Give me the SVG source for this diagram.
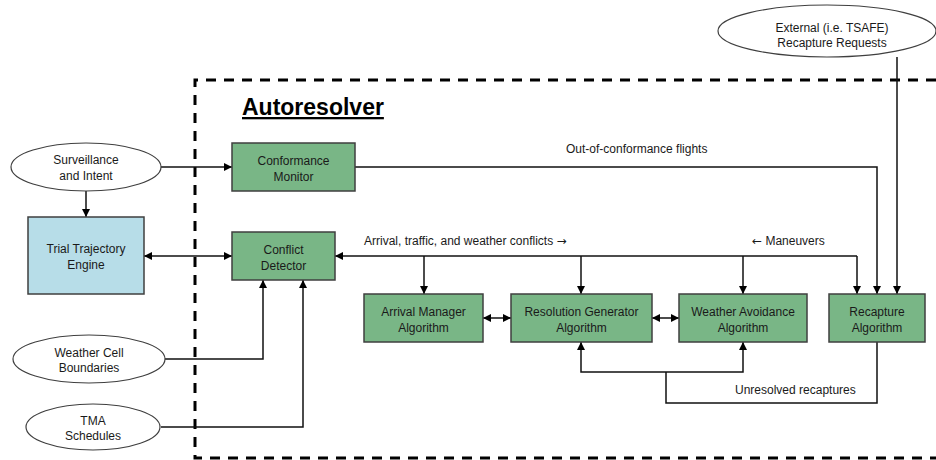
<svg xmlns="http://www.w3.org/2000/svg" width="936" height="460" viewBox="0 0 936 460">
<defs>
<marker id="ah" viewBox="0 0 8 8" refX="8" refY="4" markerWidth="8" markerHeight="8" markerUnits="userSpaceOnUse" orient="auto-start-reverse">
<path d="M0,0 L8,4 L0,8 z" fill="#000"/>
</marker>
<style>
.box{fill:#79b686;stroke:#3f3f3f;stroke-width:1.5}
.blue{fill:#b7dde8;stroke:#3f3f3f;stroke-width:1.5}
.ell{fill:#fff;stroke:#3f3f3f;stroke-width:1.2}
.t{font-family:"Liberation Sans",Arial,sans-serif;font-size:12px;fill:#1a1a1a;text-anchor:middle}
.lbl{font-family:"Liberation Sans",Arial,sans-serif;font-size:12px;fill:#1a1a1a}
.arr{font-family:"DejaVu Sans",sans-serif;font-size:12px}
.c{fill:none;stroke:#111;stroke-width:1.5}
.a{marker-end:url(#ah)}
.aa{marker-start:url(#ah);marker-end:url(#ah)}
</style>
</defs>
<rect width="936" height="460" fill="#fff"/>
<path d="M936,80 L195,80 L195,458 L936,458" fill="none" stroke="#000" stroke-width="3" stroke-dasharray="10,8"/>
<text x="242" y="115" font-family="'Liberation Sans',Arial,sans-serif" font-size="23" font-weight="bold" text-decoration="underline" fill="#000">Autoresolver</text>
<g id="connectors">
<path class="c a" d="M86,191 L86,217"/>
<path class="c a" d="M161,167 L232,167"/>
<path class="c aa" d="M144,256 L232,256"/>
<path class="c a" d="M165,359 L263,359 L263,280"/>
<path class="c a" d="M161,427 L303,427 L303,280"/>
<path class="c a" d="M355,167 L877,167 L877,294"/>
<path class="c a" d="M897,57 L897,294"/>
<path class="c a" d="M857,256 L335,256"/>
<path class="c a" d="M857,256 L857,294"/>
<path class="c a" d="M424,256 L424,294"/>
<path class="c a" d="M581,256 L581,294"/>
<path class="c a" d="M743,256 L743,294"/>
<path class="c aa" d="M483,318 L511,318"/>
<path class="c aa" d="M652,318 L679,318"/>
<path class="c a" d="M666,372 L581,372 L581,342"/>
<path class="c a" d="M666,372 L743,372 L743,342"/>
<path class="c" d="M877,342 L877,403 L666,403 L666,372"/>
<text class="lbl" x="566" y="153">Out-of-conformance flights</text>
<text class="lbl" x="364" y="245">Arrival, traffic, and weather conflicts <tspan class="arr">→</tspan></text>
<text class="lbl" x="752" y="245"><tspan class="arr">←</tspan> Maneuvers</text>
<text class="lbl" x="735" y="394">Unresolved recaptures</text>
</g>
<g id="surveillance">
<ellipse class="ell" cx="86" cy="167" rx="75" ry="24"/>
<text class="t" x="86" y="164">Surveillance</text>
<text class="t" x="86" y="180">and Intent</text>
</g>
<g id="trial-trajectory-engine">
<rect class="blue" x="28" y="217" width="116" height="77"/>
<text class="t" x="86" y="253">Trial Trajectory</text>
<text class="t" x="86" y="269">Engine</text>
</g>
<g id="weather-cell">
<ellipse class="ell" cx="89" cy="359" rx="76" ry="24"/>
<text class="t" x="89" y="357">Weather Cell</text>
<text class="t" x="89" y="372">Boundaries</text>
</g>
<g id="tma">
<ellipse class="ell" cx="93" cy="427" rx="67" ry="23"/>
<text class="t" x="93" y="425">TMA</text>
<text class="t" x="93" y="440">Schedules</text>
</g>
<g id="external">
<ellipse class="ell" cx="827" cy="31" rx="109" ry="26"/>
<text class="t" x="832" y="32">External (i.e. TSAFE)</text>
<text class="t" x="832" y="47">Recapture Requests</text>
</g>
<g id="conformance-monitor">
<rect class="box" x="232" y="143" width="123" height="48"/>
<text class="t" x="293.5" y="165">Conformance</text>
<text class="t" x="293.5" y="181">Monitor</text>
</g>
<g id="conflict-detector">
<rect class="box" x="232" y="232" width="103" height="48"/>
<text class="t" x="283.5" y="254">Conflict</text>
<text class="t" x="283.5" y="270">Detector</text>
</g>
<g id="arrival-manager">
<rect class="box" x="364" y="294" width="119" height="48"/>
<text class="t" x="423.5" y="316">Arrival Manager</text>
<text class="t" x="423.5" y="332">Algorithm</text>
</g>
<g id="resolution-generator">
<rect class="box" x="511" y="294" width="141" height="48"/>
<text class="t" x="581.5" y="316">Resolution Generator</text>
<text class="t" x="581.5" y="332">Algorithm</text>
</g>
<g id="weather-avoidance">
<rect class="box" x="679" y="294" width="128" height="48"/>
<text class="t" x="743" y="316">Weather Avoidance</text>
<text class="t" x="743" y="332">Algorithm</text>
</g>
<g id="recapture">
<rect class="box" x="829" y="294" width="96" height="48"/>
<text class="t" x="877" y="316">Recapture</text>
<text class="t" x="877" y="332">Algorithm</text>
</g>
</svg>
